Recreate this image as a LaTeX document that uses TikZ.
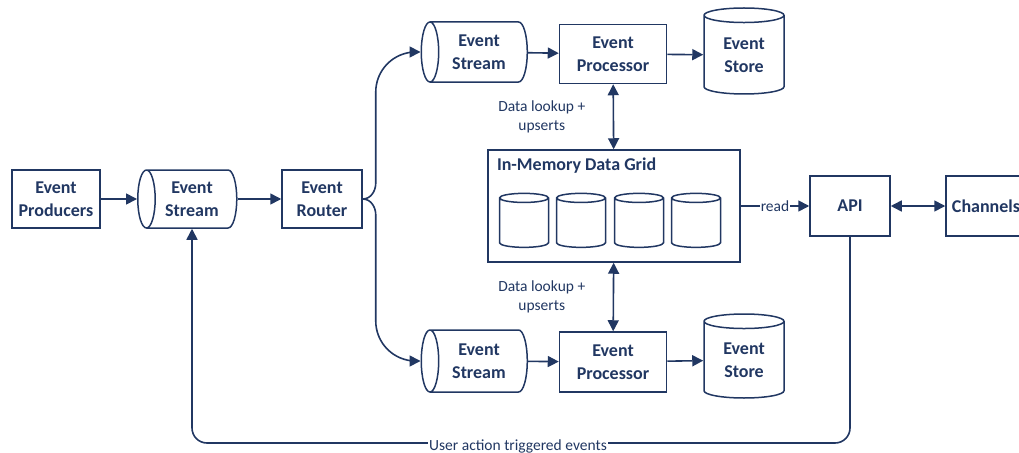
\documentclass[tikz,border=0pt]{standalone}
\usepackage{fontspec}
\setmainfont{Carlito}
\usetikzlibrary{arrows.meta}
\usetikzlibrary{positioning}
\usetikzlibrary{shapes.geometric}
\definecolor{navy}{RGB}{33,55,98}
\tikzset {
  % connector styles
  link/.style = {
    draw = navy,
    line width = 1.6pt
  },
  flow/.style = {
    link,
    -{Triangle[length=11pt,width=11pt]}
  },
  both/.style = {
    link,
    {Triangle[length=11pt,width=11pt]}-{Triangle[length=11pt,width=11pt]}
  },
  lbl/.style = {
    text = navy,
    font = \fontsize{15.5}{19}\selectfont,
    align = center
  }
}
\tikzset {
  part/.style = {
    draw = navy,
    line width = 1.5pt,
    text = navy,
    font = \bfseries\fontsize{18}{23}\selectfont,
    align = center,
    inner sep = 0
  },
  % plain component
  box/.style = {
    part,
    rectangle
  },
  % queue lying on its side (width = diameter, height = length)
  stream/.style = {
    part,
    cylinder,
    shape border rotate = 180,
    aspect = 0.5
  },
  % storage standing up
  store/.style = {
    part,
    cylinder,
    shape border rotate = 90,
    aspect = 0.35
  },
  % the ellipse follows the content, so the empty caches get a strut
  cache/.style = {
    store,
    minimum width = 49pt,
    minimum height = 54pt
  }
}

\begin{document}
\begin{tikzpicture}[x=1pt, y=-1pt]
    \useasboundingbox (0,0) rectangle (1019,452);

    \node[box, minimum width=88pt, minimum height=58pt] at (56,199) (prod) {Event\\Producers};
    \node[stream, minimum width=58pt, minimum height=99pt] at (192,199) (lstream) {Event\\Stream};
    \node[box, minimum width=80pt, minimum height=58pt] at (322,199) (router) {Event\\Router};

    \node[stream, minimum width=60pt, minimum height=106pt] at (479,52) (tstream) {Event\\Stream};
    \node[box, minimum width=107pt, minimum height=59pt] at (613,54) (tproc) {Event\\Processor};
    \node[store, minimum width=80pt, minimum height=86pt] at (744,55) (tstore) {Event\\Store};

    \node[stream, minimum width=62pt, minimum height=106pt] at (479,361) (bstream) {Event\\Stream};
    \node[box, minimum width=107pt, minimum height=60pt] at (613,362) (bproc) {Event\\Processor};
    \node[store, minimum width=80pt, minimum height=84pt] at (744,360) (bstore) {Event\\Store};

    \node[box, minimum width=252pt, minimum height=112pt] at (614,206) (grid) {};
    \node[part, draw=none, anchor=north west] at ([shift={(9,8)}]grid.north west) (title) {In-Memory Data Grid};
    \foreach \i/\x in {1/524,2/581,3/639,4/696}
      \node[cache] at (\x,223) (cache\i) {\rule{26pt}{0pt}};

    \node[box, minimum width=80pt, minimum height=60pt] at (850,206) (api) {API};
    \node[box, minimum width=80pt, minimum height=60pt] at (986,206) (chan) {Channels};

    \draw[flow] (prod) -- (lstream);
    \draw[flow] (lstream) -- (router);
    \draw[flow] (router.east) to[out=0, in=-90] ++(13,-16) [rounded corners=40pt] |- (tstream.west);
    \draw[flow] (router.east) to[out=0, in=90] ++(13,16) [rounded corners=40pt] |- (bstream.west);
    \draw[flow] (tstream) -- (tproc);
    \draw[flow] (tproc) -- (tstore);
    \draw[flow] (bstream) -- (bproc);
    \draw[flow] (bproc) -- (bstore);

    \draw[both] (tproc) -- node[lbl, left=24pt] {Data lookup +\\upserts} (grid);
    \draw[both] (bproc) -- node[lbl, left=24pt] {Data lookup +\\upserts} (grid);

    \draw[flow] (grid.east) -- node[lbl, fill=white, inner sep=1pt] {read} (api);
    \draw[both] (api) -- (chan);

    \coordinate (back) at (lstream.south |- 0,443);
    \draw[flow, rounded corners=15pt] (api.south) |- (back) -- (lstream.south);
    \node[lbl, fill=white, inner sep=1pt] at (518,446) (fb) {User action triggered events};
  \end{tikzpicture}
\end{document}
